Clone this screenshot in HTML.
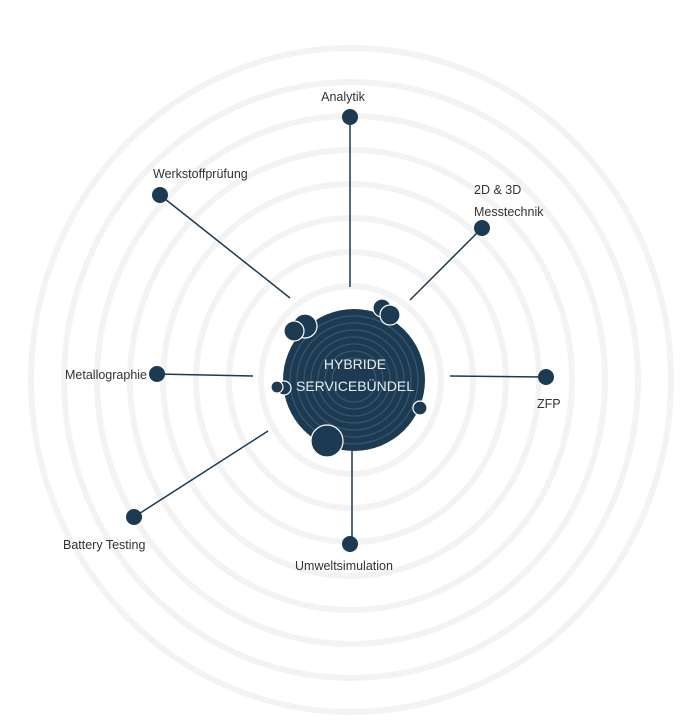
<!DOCTYPE html>
<html><head><meta charset="utf-8"><style>
html,body{margin:0;padding:0;background:#fff;}
svg{display:block;}
text{font-family:"Liberation Sans",sans-serif;font-size:12.5px;fill:#333;}
</style></head><body>
<svg width="694" height="724" viewBox="0 0 694 724" xmlns="http://www.w3.org/2000/svg">
<g fill="none" stroke="#f3f3f3" stroke-width="6">
<ellipse cx="351" cy="380" rx="320" ry="332"/>
<ellipse cx="351" cy="380" rx="287" ry="298"/>
<ellipse cx="351" cy="380" rx="254" ry="264"/>
<ellipse cx="351" cy="380" rx="221" ry="230"/>
<ellipse cx="351" cy="380" rx="188" ry="196"/>
<ellipse cx="351" cy="380" rx="155" ry="162"/>
<ellipse cx="351" cy="380" rx="122" ry="128"/>
<ellipse cx="351" cy="380" rx="90" ry="94"/>
</g>
<g stroke="#1c3a52" stroke-width="1.5">
<line x1="350" y1="125" x2="350" y2="287"/>
<line x1="160" y1="195" x2="290" y2="298"/>
<line x1="482" y1="228" x2="410" y2="300"/>
<line x1="157" y1="374" x2="253" y2="376"/>
<line x1="450" y1="376" x2="546" y2="377"/>
<line x1="134" y1="517" x2="268" y2="431"/>
<line x1="352" y1="448" x2="352" y2="538"/>
</g>
<g fill="#1c3a52">
<circle cx="350" cy="117" r="8"/>
<circle cx="160" cy="195" r="8"/>
<circle cx="482" cy="228" r="8"/>
<circle cx="157" cy="374" r="8"/>
<circle cx="546" cy="377" r="8"/>
<circle cx="134" cy="517" r="8"/>
<circle cx="350" cy="544" r="8"/>
</g>
<circle cx="354" cy="380" r="71" fill="#1c3a52"/>
<g fill="none" stroke="#36566e" stroke-width="1.3">
<circle cx="354" cy="380" r="64"/><circle cx="354" cy="380" r="57"/>
<circle cx="354" cy="380" r="50"/><circle cx="354" cy="380" r="43"/>
<circle cx="354" cy="380" r="36"/><circle cx="354" cy="380" r="29"/>
<circle cx="354" cy="380" r="22"/>
</g>
<g fill="#1c3a52" stroke="#fff" stroke-width="1.2">
<circle cx="305" cy="326" r="12"/><circle cx="294" cy="331" r="10"/>
<circle cx="382" cy="308" r="9"/><circle cx="390" cy="315" r="10"/>
<circle cx="284" cy="388" r="7"/><circle cx="277" cy="387" r="6"/>
<circle cx="420" cy="408" r="7"/>
<circle cx="327" cy="441" r="16"/>
</g>
<text x="355" y="369" text-anchor="middle" style="fill:#e8eef2;font-size:14px">HYBRIDE</text>
<text x="355" y="391" text-anchor="middle" style="fill:#e8eef2;font-size:14px">SERVICEBÜNDEL</text>
<text x="343" y="101" text-anchor="middle">Analytik</text>
<text x="153" y="178">Werkstoffprüfung</text>
<text x="474" y="194">2D &amp; 3D</text>
<text x="474" y="216">Messtechnik</text>
<text x="147" y="379" text-anchor="end">Metallographie</text>
<text x="537" y="408">ZFP</text>
<text x="63" y="549">Battery Testing</text>
<text x="295" y="570">Umweltsimulation</text>
</svg>
</body></html>
